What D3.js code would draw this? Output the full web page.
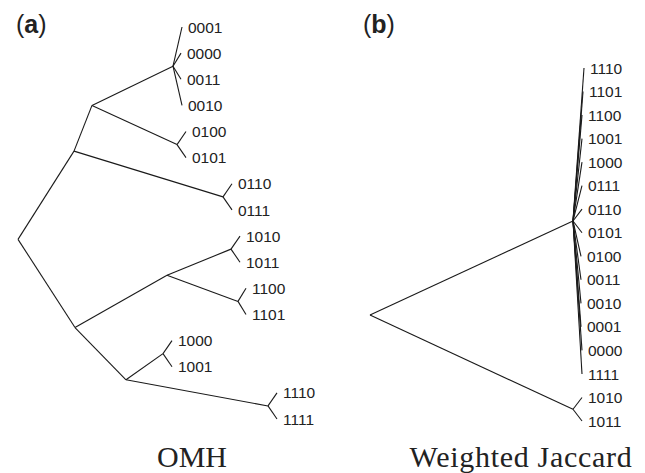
<!DOCTYPE html>
<html>
<head>
<meta charset="utf-8">
<script src="https://cdn.jsdelivr.net/npm/d3@7"></script>
<style>
  html, body { margin: 0; padding: 0; background: #fff; }
  svg { display: block; }
</style>
</head>
<body>
<div id="chart"></div>
<script>
// Two trees, drawn as straight parent -> child links.
// Edges are [parent, child, branch length]; child order = top to bottom.

const omhEdges = [
  ["r", "n1", 0.56], ["n1", "n2", 0.18], ["n2", "n3", 0.81],
  ["n3", "0001", 0.09], ["n3", "0000", 0.08], ["n3", "0011", 0.08], ["n3", "0010", 0.09],
  ["n2", "n4", 0.85], ["n4", "0100", 0.09], ["n4", "0101", 0.09],
  ["n1", "n5", 1.49], ["n5", "0110", 0.09], ["n5", "0111", 0.09],
  ["r", "n6", 0.57], ["n6", "n7", 0.92],
  ["n7", "n8", 0.64], ["n8", "1010", 0.09], ["n8", "1011", 0.09],
  ["n7", "n9", 0.71], ["n9", "1100", 0.08], ["n9", "1101", 0.08],
  ["n6", "n10", 0.51],
  ["n10", "n11", 0.37], ["n11", "1000", 0.09], ["n11", "1001", 0.09],
  ["n10", "n12", 1.42], ["n12", "1110", 0.09], ["n12", "1111", 0.09]
];

const jaccardEdges = [
  ["r", "m1", 2.03],
  ["m1", "1110", 0.11], ["m1", "1101", 0.10], ["m1", "1100", 0.09],
  ["m1", "1001", 0.09], ["m1", "1000", 0.09], ["m1", "0111", 0.09],
  ["m1", "0110", 0.09], ["m1", "0101", 0.09], ["m1", "0100", 0.08],
  ["m1", "0011", 0.08], ["m1", "0010", 0.08], ["m1", "0001", 0.08],
  ["m1", "0000", 0.09], ["m1", "1111", 0.09],
  ["r", "m2", 2.03], ["m2", "1010", 0.09], ["m2", "1011", 0.09]
];

const panelTags = ["(a)", "(b)"];
const panelTitles = ["OMH", "Weighted Jaccard"];

const width = 645, height = 473;

const panels = [
  { edges: omhEdges, x0: 18, x1: 277, y0: 27, y1: 419, tagX: 16, titleX: 192, titleSpacing: 0 },
  { edges: jaccardEdges, x0: 370, x1: 584, y0: 68, y1: 421, tagX: 363, titleX: 521, titleSpacing: 0.7 }
];

const svg = d3.select('#chart')
  .append('svg')
  .attr('width', width)
  .attr('height', height);

function buildTree(edges) {
  const rows = [{ id: "r", parentId: null, len: 0 }]
    .concat(edges.map(e => ({ id: e[1], parentId: e[0], len: e[2] })));
  const root = d3.stratify().id(d => d.id).parentId(d => d.parentId)(rows);
  // vertical: leaves evenly spaced, inner nodes at mean of children
  d3.cluster().nodeSize([1, 1]).separation(() => 1)(root);
  // horizontal: cumulative branch length
  root.eachBefore(n => { n.dist = n.parent ? n.parent.dist + n.data.len : 0; });
  return root;
}

panels.forEach((p, i) => {
  const root = buildTree(p.edges);
  const leaves = root.leaves();

  const x = d3.scaleLinear()
    .domain([0, d3.max(leaves, d => d.dist)])
    .range([p.x0, p.x1]);
  const y = d3.scaleLinear()
    .domain(d3.extent(leaves, d => d.x))
    .range([p.y0, p.y1]);

  const g = svg.append('g');

  g.selectAll('line')
    .data(root.links())
    .join('line')
    .attr('x1', d => x(d.source.dist))
    .attr('y1', d => y(d.source.x))
    .attr('x2', d => x(d.target.dist))
    .attr('y2', d => y(d.target.x))
    .attr('stroke', '#1a1a1a')
    .attr('stroke-width', 1.1);

  g.selectAll('text.leaf')
    .data(leaves)
    .join('text')
    .attr('class', 'leaf')
    .attr('x', d => x(d.dist) + 6)
    .attr('y', d => y(d.x))
    .attr('dy', '0.36em')
    .attr('font-family', '"Liberation Sans", Arial, sans-serif')
    .attr('font-size', 15.5)
    .attr('fill', '#222')
    .text(d => d.id);

  // Panel tag
  svg.append('text')
    .attr('x', p.tagX)
    .attr('y', 33)
    .attr('font-family', '"Liberation Sans", Arial, sans-serif')
    .attr('font-size', 25)
    .attr('fill', '#222')
    .html(`(<tspan font-weight="bold">${panelTags[i].slice(1, -1)}</tspan>)`);

  // Title underneath
  svg.append('text')
    .attr('x', p.titleX)
    .attr('y', 467)
    .attr('text-anchor', 'middle')
    .attr('font-family', '"Liberation Serif", "Times New Roman", serif')
    .attr('font-size', 30)
    .attr('letter-spacing', p.titleSpacing)
    .attr('fill', '#222')
    .text(panelTitles[i]);
});
</script>
</body>
</html>
